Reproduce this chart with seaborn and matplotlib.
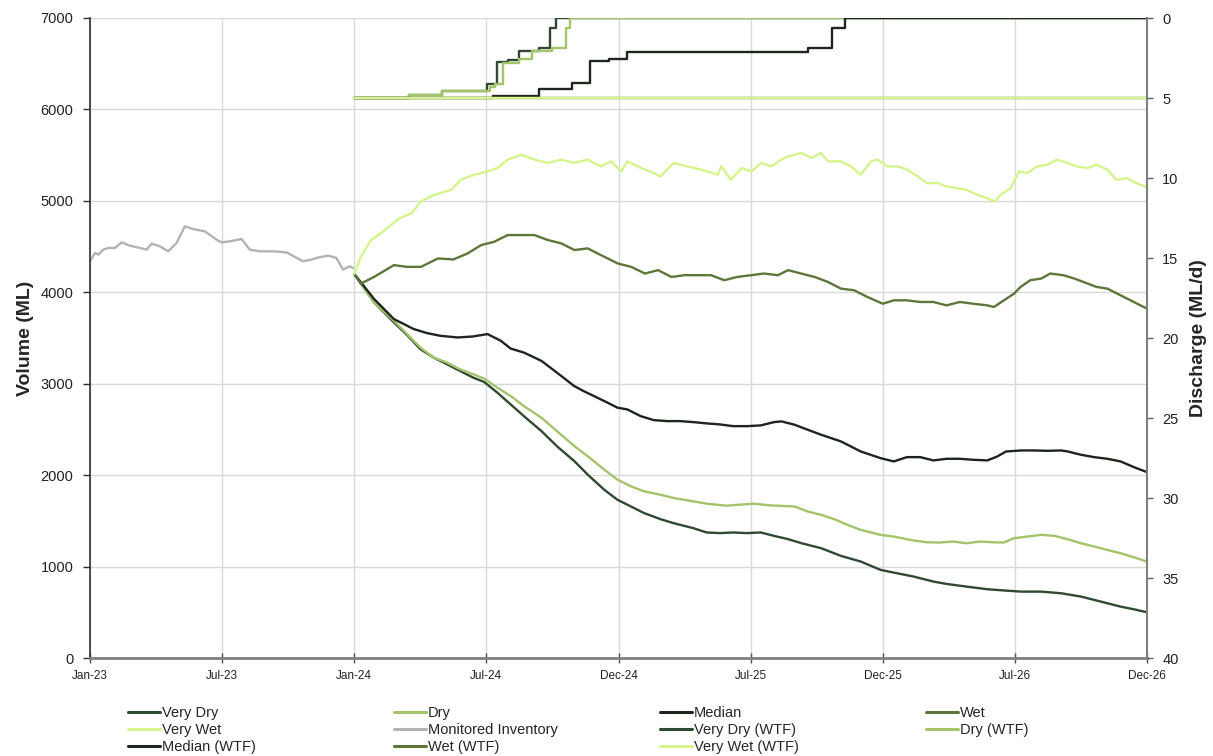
import matplotlib
matplotlib.use("Agg")
import matplotlib.pyplot as plt
import pandas as pd
import seaborn as sns
from matplotlib.lines import Line2D

sns.set_theme(style="white")
plt.rcParams["font.family"] = ["Liberation Sans", "DejaVu Sans"]

# ---------------- data (x = months since Jan-23) ----------------
tick_positions = [0, 6, 12, 18, 24, 30, 36, 42, 48]
tick_labels = ["Jan-23", "Jul-23", "Jan-24", "Jul-24", "Dec-24", "Jul-25", "Dec-25", "Jul-26", "Dec-26"]

monitored = [(0, 4339), (0.23, 4430), (0.38, 4412), (0.6, 4466), (0.83, 4485), (1.13, 4485), (1.44, 4546),
             (1.81, 4510), (2.27, 4485), (2.57, 4466), (2.8, 4532), (3.17, 4503), (3.55, 4448), (3.93, 4539),
             (4.31, 4721), (4.68, 4692), (5.22, 4666), (5.75, 4575), (5.97, 4546), (6.35, 4557), (6.88, 4583),
             (7.26, 4466), (7.71, 4448), (8.31, 4448), (8.92, 4437), (9.67, 4339), (10.05, 4357), (10.28, 4376),
             (10.81, 4401), (11.19, 4376), (11.49, 4248), (11.79, 4284), (11.94, 4266)]

very_wet = [(12, 4200), (12.3, 4388), (12.76, 4571), (13.2, 4645), (13.67, 4736), (14.05, 4810), (14.6, 4864),
            (15.03, 4993), (15.64, 5066), (16.4, 5121), (16.85, 5231), (17.45, 5286), (18.06, 5322), (18.5, 5359),
            (18.97, 5451), (19.58, 5505), (20.18, 5451), (20.8, 5414), (21.4, 5451), (22, 5414), (22.6, 5451),
            (23.2, 5377), (23.67, 5432), (24.12, 5322), (24.4, 5432), (25.03, 5359), (25.6, 5304), (25.9, 5267),
            (26.5, 5414), (27.1, 5377), (27.76, 5341), (28.5, 5286), (28.67, 5377), (29.1, 5231), (29.6, 5359),
            (30.03, 5322), (30.48, 5414), (30.94, 5377), (31.4, 5451), (31.7, 5487), (32.3, 5524), (32.76, 5469),
            (33.2, 5524), (33.5, 5432), (34.1, 5432), (34.57, 5377), (35.0, 5286), (35.47, 5432), (35.77, 5451),
            (36.2, 5377), (36.7, 5377), (37.1, 5341), (37.6, 5267), (38.0, 5194), (38.5, 5194), (38.9, 5158),
            (39.4, 5139), (39.8, 5121), (40.3, 5066), (40.75, 5029), (41.1, 4993), (41.35, 5066), (41.8, 5139),
            (42.2, 5322), (42.56, 5304), (43.0, 5377), (43.5, 5396), (43.9, 5451), (44.4, 5414), (44.8, 5377),
            (45.3, 5359), (45.7, 5396), (46.2, 5341), (46.6, 5231), (47.1, 5249), (47.5, 5194), (48, 5150)]

wet = [(12, 4200), (12.3, 4095), (12.9, 4168), (13.8, 4297), (14.4, 4278), (15.03, 4278), (15.8, 4370),
       (16.5, 4359), (17.15, 4425), (17.76, 4516), (18.36, 4553), (18.97, 4626), (19.58, 4626), (20.18, 4626),
       (20.8, 4571), (21.4, 4535), (22, 4462), (22.6, 4480), (23.2, 4407), (23.97, 4315), (24.58, 4278),
       (25.2, 4205), (25.8, 4242), (26.4, 4168), (27, 4187), (27.6, 4187), (28.2, 4187), (28.8, 4132),
       (29.4, 4168), (30.03, 4187), (30.6, 4205), (31.24, 4187), (31.7, 4242), (32.3, 4205), (32.9, 4168),
       (33.5, 4114), (34.1, 4040), (34.7, 4022), (35.3, 3949), (36, 3875), (36.5, 3912), (37.1, 3912),
       (37.7, 3894), (38.3, 3894), (38.9, 3857), (39.5, 3894), (40.1, 3875), (40.75, 3857), (41.05, 3839),
       (41.5, 3912), (41.96, 3985), (42.26, 4059), (42.7, 4132), (43.2, 4150), (43.6, 4205), (44.2, 4187),
       (44.7, 4150), (45.1, 4114), (45.7, 4059), (46.2, 4040), (46.8, 3967), (47.4, 3894), (48, 3821)]

median = [(12, 4200), (12.3, 4110), (12.9, 3927), (13.8, 3707), (14.7, 3598), (15.3, 3554), (15.9, 3524),
          (16.7, 3506), (17.4, 3517), (18.05, 3543), (18.66, 3469), (19.1, 3385), (19.7, 3341), (20.5, 3250),
          (21.2, 3122), (21.98, 2976), (22.4, 2921), (23.04, 2847), (23.5, 2793), (23.95, 2738), (24.4, 2719),
          (25, 2646), (25.6, 2602), (26.2, 2591), (26.8, 2591), (27.4, 2580), (28, 2566), (28.6, 2555),
          (29.2, 2536), (29.85, 2536), (30.46, 2544), (31.06, 2580), (31.4, 2588), (32, 2551), (32.6, 2496),
          (33.2, 2442), (34.1, 2369), (35.0, 2259), (35.9, 2186), (36.5, 2150), (37.1, 2197), (37.7, 2197),
          (38.3, 2161), (38.9, 2179), (39.5, 2179), (40.1, 2168), (40.75, 2161), (41.2, 2204), (41.6, 2259),
          (42.3, 2270), (42.9, 2270), (43.5, 2266), (44.1, 2270), (44.4, 2259), (45, 2223), (45.6, 2197),
          (46.2, 2179), (46.8, 2150), (47.4, 2088), (48, 2033)]

dry = [(12, 4200), (12.9, 3890), (13.8, 3689), (14.4, 3543), (15.0, 3396), (15.6, 3287), (16.2, 3232),
       (16.8, 3158), (17.4, 3104), (17.9, 3056), (18.5, 2957), (19.1, 2866), (19.7, 2756), (20.5, 2628),
       (21.2, 2482), (22, 2317), (22.6, 2207), (23.35, 2061), (23.95, 1951), (24.56, 1878), (25.16, 1823),
       (25.9, 1786), (26.5, 1750), (27.4, 1713), (28, 1688), (28.9, 1666), (29.5, 1677), (30.15, 1688),
       (30.9, 1669), (31.4, 1664), (32, 1657), (32.6, 1602), (33.2, 1566), (33.8, 1518), (34.4, 1456),
       (35.0, 1401), (35.9, 1347), (36.5, 1328), (37.4, 1285), (38.0, 1266), (38.6, 1263), (39.2, 1274),
       (39.8, 1255), (40.45, 1274), (41, 1266), (41.5, 1263), (41.96, 1310), (42.55, 1328), (43.2, 1347),
       (43.8, 1336), (44.4, 1299), (45, 1255), (45.6, 1219), (46.2, 1182), (46.8, 1146), (47.4, 1102), (48, 1055)]

very_dry = [(12, 4200), (12.9, 3890), (13.8, 3671), (14.4, 3532), (15.0, 3378), (15.6, 3287), (16.2, 3214),
            (16.8, 3140), (17.4, 3067), (17.9, 3019), (18.5, 2902), (19.1, 2774), (19.7, 2646), (20.5, 2482),
            (21.2, 2317), (22, 2152), (22.6, 2006), (23.35, 1841), (23.95, 1731), (24.56, 1658), (25.16, 1585),
            (25.9, 1519), (26.5, 1475), (27.4, 1420), (28, 1373), (28.6, 1366), (29.2, 1373), (29.85, 1366),
            (30.46, 1373), (31.06, 1336), (31.7, 1300), (32.3, 1256), (33.2, 1201), (34.1, 1117), (35, 1055),
            (35.9, 964), (36.5, 934), (37.4, 891), (38.3, 836), (38.9, 810), (39.8, 781), (40.75, 752),
            (41.6, 737), (42.3, 726), (43.2, 726), (44.1, 708), (45, 672), (45.9, 617), (46.8, 562),
            (47.4, 533), (48, 500)]

# discharge (ML/d), step series
very_dry_wtf = [(12, 5), (14.5, 4.8), (16.0, 4.55), (18.05, 4.15), (18.5, 2.72), (19.0, 2.6), (19.5, 2.08),
                (20.4, 1.87), (20.9, 0.64), (21.15, 0), (48, 0)]
dry_wtf = [(12, 5), (14.5, 4.8), (16.0, 4.55), (18.15, 4.3), (18.4, 4.15), (18.76, 2.8), (19.46, 2.55),
           (20.07, 2.08), (21.0, 1.9), (21.63, 0.64), (21.8, 0), (48, 0)]
median_wtf = [(12, 5), (18.3, 4.85), (20.4, 4.45), (21.9, 4.05), (22.7, 2.7), (23.55, 2.55), (24.4, 2.1),
              (32.6, 1.9), (33.7, 0.65), (34.3, 0), (48, 0)]
wet_wtf = [(12, 5), (48, 5)]
very_wet_wtf = [(12, 5), (48, 5)]

colors = {
    "Very Dry": "#2f4a30",
    "Dry": "#a3c46a",
    "Median": "#1c261c",
    "Wet": "#5d773a",
    "Very Wet": "#d4f58c",
    "Monitored Inventory": "#b3b3b3",
}

# ---------------- figure ----------------
W, H = 1213, 756
fig = plt.figure(figsize=(W / 100, H / 100), dpi=100)
L, R, T, B = 90, 1147, 18, 658
ax = fig.add_axes([L / W, 1 - B / H, (R - L) / W, (B - T) / H])
ax2 = ax.twinx()


def draw(axis, pairs, color, step=False):
    df = pd.DataFrame(pairs, columns=["x", "y"])
    kw = dict(drawstyle="steps-post") if step else {}
    sns.lineplot(data=df, x="x", y="y", ax=axis, color=color, lw=1.7, estimator=None,
                 legend=False, **kw)


draw(ax, monitored, colors["Monitored Inventory"])
draw(ax, very_dry, colors["Very Dry"])
draw(ax, dry, colors["Dry"])
draw(ax, median, colors["Median"])
draw(ax, wet, colors["Wet"])
draw(ax, very_wet, colors["Very Wet"])

draw(ax2, very_dry_wtf, colors["Very Dry"], step=True)
draw(ax2, dry_wtf, colors["Dry"], step=True)
draw(ax2, median_wtf, colors["Median"], step=True)
draw(ax2, wet_wtf, colors["Wet"], step=True)
draw(ax2, very_wet_wtf, colors["Very Wet"], step=True)

# axes formatting
ax.set_xlim(0, 48)
ax.set_ylim(0, 7000)
ax.set_yticks(range(0, 7001, 1000))
ax.set_xticks(tick_positions)
ax.set_xticklabels(tick_labels)
ax.grid(True, color="#d9d9d9", lw=1)
ax.set_axisbelow(True)
ax.set_xlabel("")
ax.set_ylabel("Volume (ML)", fontsize=14, fontweight="bold", labelpad=5)

ax2.set_ylim(40, 0)
ax2.set_yticks(range(0, 41, 5))
ax2.grid(False)
ax2.set_xlabel("")
ax2.set_ylabel("Discharge (ML/d)", fontsize=14, fontweight="bold", labelpad=8)

for a in (ax, ax2):
    a.spines["top"].set_visible(False)
ax.spines["left"].set_color("#303030")
ax.spines["left"].set_linewidth(1.2)
ax.spines["bottom"].set_color("#808080")
ax.spines["bottom"].set_linewidth(2)
ax2.spines["right"].set_color("#808080")
ax2.spines["right"].set_linewidth(1.5)
ax2.spines["left"].set_visible(False)
ax2.spines["bottom"].set_visible(False)

ax.tick_params(axis="y", which="both", left=True, direction="out", length=5, width=1,
               color="#303030", labelsize=10.5, labelcolor="#222222", pad=7)
ax.tick_params(axis="x", bottom=True, direction="inout", length=7, width=1, color="#505050",
               labelsize=8.5, labelcolor="#222222", pad=5)
ax2.tick_params(axis="y", right=True, direction="out", length=4, width=1, color="#606060",
                labelsize=10.5, labelcolor="#222222", pad=7)

# legend: four columns, placed at fixed x positions
order = [
    ["Very Dry", "Very Wet", "Median (WTF)"],
    ["Dry", "Monitored Inventory", "Wet (WTF)"],
    ["Median", "Very Dry (WTF)", "Very Wet (WTF)"],
    ["Wet", "Dry (WTF)"],
]
col_x = [128, 394, 660, 926]
for cx, names in zip(col_x, order):
    handles = [Line2D([], [], color=colors[n.replace(" (WTF)", "")], lw=2.2) for n in names]
    fig.legend(handles, names, loc="upper left", bbox_to_anchor=(cx / W, 1 - 706 / H),
               frameon=False, fontsize=10.5, handlelength=2.2, handletextpad=0.1,
               labelspacing=0.22, borderpad=0, borderaxespad=0)

fig.savefig("out.png", dpi=100)
